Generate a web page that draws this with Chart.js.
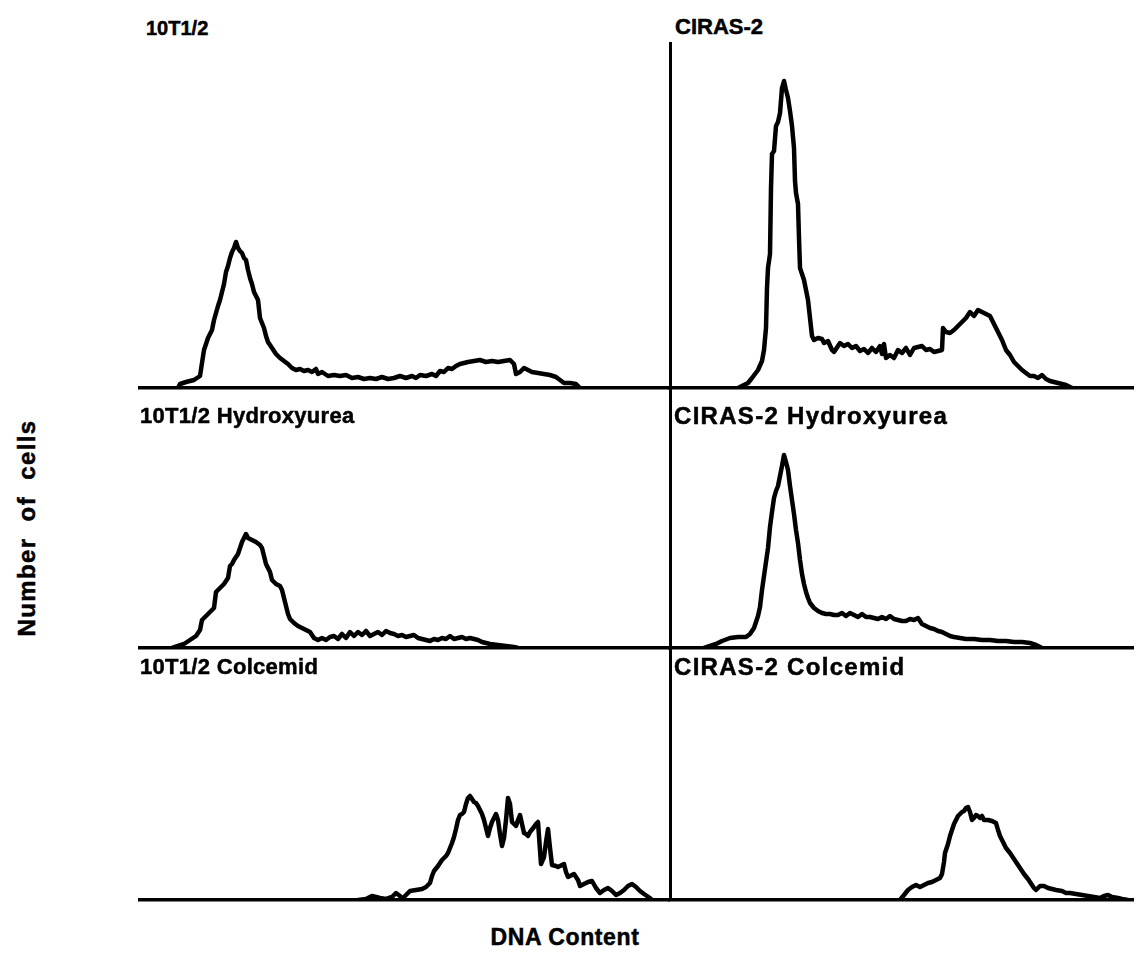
<!DOCTYPE html>
<html>
<head>
<meta charset="utf-8">
<script src="https://cdn.jsdelivr.net/npm/chart.js@4.4.1/dist/chart.umd.min.js"></script>
<style>
  body { margin: 0; background: #fff; }
  #fig { position: relative; width: 1138px; height: 975px; overflow: hidden; background: #fff; }
  #fig canvas { position: absolute; }
  .lbl { position: absolute; font-family: "Liberation Sans", Arial, sans-serif; font-weight: bold; font-size: 22px; line-height: 1; color: #000; white-space: nowrap; -webkit-text-stroke: 0.5px #000; }
  .right { font-size: 24px; letter-spacing: 1.3px; }
  .left { letter-spacing: 0.3px; }
</style>
</head>
<body>
<div id="fig">
  <canvas id="c1" width="532" height="348" style="left:138px;top:42px"></canvas>
  <canvas id="c2" width="466" height="348" style="left:668px;top:42px"></canvas>
  <canvas id="c3" width="532" height="262" style="left:138px;top:388px"></canvas>
  <canvas id="c4" width="466" height="262" style="left:668px;top:388px"></canvas>
  <canvas id="c5" width="532" height="254" style="left:138px;top:648px"></canvas>
  <canvas id="c6" width="466" height="254" style="left:668px;top:648px"></canvas>

  <div class="lbl" id="t1" style="left:146px;top:18px;font-size:20px"></div>
  <div class="lbl" id="t2" style="left:675px;top:16px"></div>
  <div class="lbl left" id="t3" style="left:140px;top:405px"></div>
  <div class="lbl right" id="t4" style="left:674px;top:404px"></div>
  <div class="lbl left" id="t5" style="left:140px;top:656px"></div>
  <div class="lbl right" id="t6" style="left:674px;top:655px"></div>

  <div class="lbl" style="left:485px;top:926px;width:160px;text-align:center;font-size:23px;letter-spacing:0.6px">DNA Content</div>
  <div class="lbl" style="left:27px;top:528px;transform:translate(-50%,-50%) rotate(-90deg);font-size:24px;letter-spacing:1.4px;word-spacing:8px">Number of cells</div>
</div>

<script>
// panel titles
const panelTitles = ["10T1/2", "CIRAS-2", "10T1/2 Hydroxyurea", "CIRAS-2 Hydroxyurea", "10T1/2 Colcemid", "CIRAS-2 Colcemid"];

// 10T1/2 (untreated)
const ctlChannels = [20,21,24,28,31,32,33,35,37,38,40,41,43,44,45,46,47,48,49,50,51,52,53,54,55,56,57,58,59,60,61,63,64,65,67,69,71,73,75,77,79,81,83,85,87,89,90,92,95,98,101,104,107,110,113,116,119,122,125,128,131,134,137,139,141,144,147,149,151,153,155,157,159,161,163,165,168,171,174,177,180,183,186,188,189,191,193,195,197,200,203,206,209,211,213,216,219,221];
const ctlCounts   = [0,4,6,8,12,25,38,50,58,68,82,88,104,116,122,130,136,140,146,140,137,135,130,128,118,110,104,96,92,88,70,60,52,46,40,34,30,27,24,20,18,19,17,18,16,19,14,16,12,13,12,13,10,11,9,10,9,11,9,10,12,10,12,10,13,12,14,12,17,16,20,19,22,24,25,26,27,28,26,27,26,27,28,24,14,16,20,18,16,15,14,13,11,8,5,5,4,0];

// CIRAS-2 (untreated)
const rasChannels = [34,36,39,41,44,46,47,48,48.5,49,50,50.5,51,52,53,54,55,56,57,58,59,60,61,62,62.5,63,64,64.5,65,66,67,68,69,70,71,72,74,76,77,79,81,82,84,85,87,89,91,93,95,97,99,101,103,105,106,107,108,110,112,114,116,118,120,122,124,126,128,130,132,134,136,136.5,138,140,142,145,148,150,152,154,156,158,160,162,164,166,168,170,172,174,176,178,180,182,184,186,188,190,194,198,201];
const rasCounts   = [0,2,5,10,18,27,38,60,100,120,134,200,234,237,262,266,275,300,307,298,290,277,262,240,207,195,184,150,120,114,108,98,88,70,52,48,50,49,45,47,38,36,42,45,42,44,40,42,37,39,35,40,36,42,34,44,30,33,30,38,35,40,33,40,41,42,38,39,36,37,38,60,56,55,58,64,70,76,72,78,76,74,72,64,56,48,38,33,26,22,18,15,12,12,10,13,9,7,5,3,0];

// 10T1/2 + hydroxyurea
const ctlHuChannels = [17,20,23,26,29,31,32,34,36,38,39,41,43,45,46,47,48,50,51,52,54,55,57,59,61,62,63,64,66,67,69,71,72,73,74,75,76,78,80,82,84,86,88,90,92,94,96,98,100,102,104,106,108,110,112,114,116,118,120,122,124,126,128,130,132,134,136,138,140,142,144,146,148,150,152,154,156,158,160,162,164,166,168,170,172,174,176,180,184,188,190];
const ctlHuCounts   = [0,2,4,8,12,18,28,32,36,40,56,60,64,70,82,84,88,94,100,106,114,110,108,106,103,100,92,84,76,68,64,62,58,50,42,34,29,25,22,20,18,16,10,8,10,8,11,12,9,14,10,16,12,16,13,17,12,14,16,13,17,15,14,12,13,11,12,13,10,9,8,7,9,8,10,9,12,9,10,11,9,10,9,8,6,5,4,3,2,1,0];

// CIRAS-2 + hydroxyurea
const rasHuChannels = [17,20,23,26,30,34,38,40,42,44,45,46,47,48,49,50,51,52,53,54,55,56,57,58,59,60,61,62,63,64,65,66,67,68,69,70,72,74,76,78,80,82,84,86,88,90,92,94,96,98,100,102,104,106,108,110,112,114,116,118,120,122,124,126,128,130,132,134,136,138,140,142,145,148,152,156,160,164,168,172,176,180,183,186];
const rasHuCounts   = [0,2,4,7,10,11,11,14,20,32,41,58,72,86,100,121,136,150,157,162,172,182,193,186,178,162,148,134,118,105,88,74,64,56,50,45,40,37,35,34,34,33,33,35,32,35,33,31,34,31,31,30,29,31,29,32,29,28,27,27,29,28,30,24,22,20,19,17,16,14,12,11,10,9,9,8,8,7,7,6,6,5,3,0];

// 10T1/2 + colcemid
const ctlColChannels = [110,114,117,119,121,124,127,129,131,132,134,136,139,142,144,146,147,148,150,152,154,155,156,157,158,159,160,161,162,163,164,165,166,167,168,169,170,171,172,173,174,175,176,177,178,179,180,181,182,183,184,185,186,187,188,189,190,191,192,193,194,195,196,198,199,200,201,201.5,203,204,205,206,207,209,210,212,213,214,215,217,218,220,221,223,225,227,229,231,233,235,237,239,241,243,245,247,249,251,253,256,257];
const ctlColCounts   = [0,1,4,3,2,1,3,7,4,1,5,9,10,11,13,17,24,29,34,40,44,47,52,57,63,71,80,85,86,88,96,102,104,101,98,97,94,90,86,80,72,64,72,78,82,86,80,66,54,62,80,102,96,78,76,74,80,85,76,67,66,64,68,73,76,78,50,36,43,58,71,52,35,34,33,35,36,28,23,25,26,20,14,16,18,19,12,7,10,12,9,5,7,10,14,16,13,9,6,2,0];

// CIRAS-2 + colcemid
const rasColChannels = [115,117,119,121,123,125,127,129,131,133,135,136,137,137.5,139,140,141,142,143,144,145,146,147,148,149,150,151,152,153,154,155,156,157,159,161,163,164,165,166,167,168,170,171,173,175,177,179,180,182,183,185,187,189,191,193,196,198,200,203,206,209,212,215,217,219,221,224,226,229];
const rasColCounts   = [0,5,10,13,15,13,15,17,18,20,22,26,38,47,56,64,70,76,80,84,86,88,89,92,93,88,80,82,85,84,82,84,80,80,79,77,70,64,60,56,52,47,44,38,32,26,21,18,12,10,14,14,12,11,10,9,7,7,6,5,4,3,2,4,5,3,2,1,0];

// axis extents (channels / counts), left panels are wider than right ones
const leftMaxChannel = 266;
const rightMaxChannel = 232;
const rowMaxCount = [346, 260, 252];

function makePanel(id, channels, counts, xMax, yMax, divider) {
  const pts = channels.map((c, i) => ({ x: c, y: counts[i] }));
  return new Chart(document.getElementById(id), {
    type: "line",
    data: {
      datasets: [{
        data: pts,
        borderColor: "#000",
        borderWidth: 4.5,
        borderJoinStyle: "round",
        borderCapStyle: "round",
        pointRadius: 0,
        tension: 0,
        fill: false
      }]
    },
    options: {
      responsive: false,
      animation: false,
      devicePixelRatio: 1,
      layout: { padding: { left: divider ? 2 : 0, right: 0, top: 0, bottom: 2 } },
      plugins: { legend: { display: false }, tooltip: { enabled: false } },
      scales: {
        x: {
          type: "linear", min: 0, max: xMax,
          grid: { display: false, drawTicks: false },
          ticks: { display: false },
          border: { color: "#000", width: 3.5 }
        },
        y: {
          type: "linear", min: 0, max: yMax,
          display: divider,
          grid: { display: false, drawTicks: false },
          ticks: { display: false },
          border: { color: "#000", width: 3 }
        }
      }
    }
  });
}

makePanel("c1", ctlChannels, ctlCounts, leftMaxChannel, rowMaxCount[0], false);
makePanel("c2", rasChannels, rasCounts, rightMaxChannel, rowMaxCount[0], true);
makePanel("c3", ctlHuChannels, ctlHuCounts, leftMaxChannel, rowMaxCount[1], false);
makePanel("c4", rasHuChannels, rasHuCounts, rightMaxChannel, rowMaxCount[1], true);
makePanel("c5", ctlColChannels, ctlColCounts, leftMaxChannel, rowMaxCount[2], false);
makePanel("c6", rasColChannels, rasColCounts, rightMaxChannel, rowMaxCount[2], true);

panelTitles.forEach((t, i) => { document.getElementById("t" + (i + 1)).textContent = t; });
</script>
</body>
</html>
